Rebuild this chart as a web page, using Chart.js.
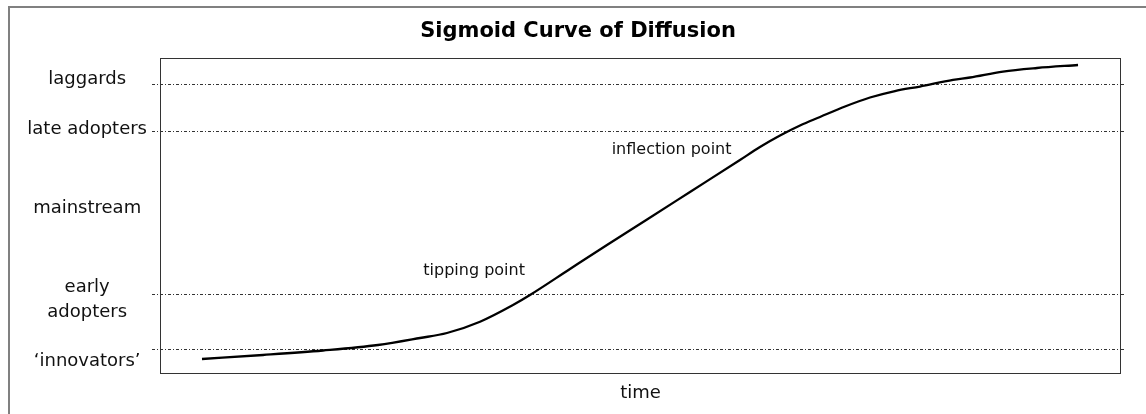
<!DOCTYPE html>
<html>
<head>
<meta charset="utf-8">
<title>Sigmoid Curve of Diffusion</title>
<script src="https://cdn.jsdelivr.net/npm/chart.js@4"></script>
<style>
  html, body { margin: 0; padding: 0; background: #fff; }
  #wrap { position: relative; width: 1146px; height: 414px; overflow: hidden; }
  #chart { display: block; }
  #frame { position: absolute; left: 8px; top: 6px; width: 1200px; height: 500px;
           border-left: 2px solid #808080; border-top: 2px solid #808080; pointer-events: none; }
</style>
</head>
<body>
<div id="wrap">
  <canvas id="chart" width="1146" height="414"></canvas>
  <div id="frame"></div>
</div>
<script>
// curve (time 0-100, adoption 0-100)
const timeValues     = [4.37, 10.72, 16.96, 22.68, 27.06, 29.86, 33.30, 36.73, 38.50, 42.66, 46.51, 50.68, 55.15,
                        60.35, 62.43, 64.52, 66.60, 68.68, 71.28, 73.88, 76.48, 79.08, 82.52, 84.29, 87.72, 91.26, 95.53];
const adoptionValues = [4.44, 5.71, 7.14, 8.89, 11.11, 12.70, 16.29, 21.59, 24.76, 33.02, 40.63, 48.73, 57.46,
                        67.62, 71.75, 75.40, 78.57, 81.27, 84.60, 87.46, 89.52, 90.95, 93.02, 93.81, 95.71, 96.83, 97.78];

// stage names on the left and where they sit
const stageLabels = ['laggards', 'late adopters', 'mainstream', ['early', 'adopters'], '\u2018innovators\u2019'];
const stageLevels = [93.1, 77.5, 52.4, 23.1, 3.6];

// dotted boundaries between stages
const boundaryLevels = [91.7, 76.8, 24.8, 7.6];

// notes written next to the curve
const noteText = ['inflection point', 'tipping point'];
const noteTime = [47.0, 27.4];
const noteLevel = [70.8, 32.5];

const FONT = "'DejaVu Sans', Verdana, sans-serif";
const DASH = [3, 2, 1, 2];

const plotFrame = {
    id: 'plotFrame',
    beforeDatasetsDraw(chart) {
        const { ctx, chartArea: a } = chart;
        ctx.save();
        ctx.strokeStyle = '#333';
        ctx.lineWidth = 1;
        ctx.strokeRect(Math.round(a.left) + 0.5, Math.round(a.top) + 0.5,
                       Math.round(a.right - a.left) - 1, Math.round(a.bottom - a.top));
        ctx.restore();
    }
};

const curveNotes = {
    id: 'curveNotes',
    afterDatasetsDraw(chart) {
        const { ctx, scales } = chart;
        ctx.save();
        ctx.font = '16px ' + FONT;
        ctx.fillStyle = '#111';
        ctx.textAlign = 'left';
        ctx.textBaseline = 'middle';
        noteText.forEach((t, i) => {
            ctx.fillText(t, scales.x.getPixelForValue(noteTime[i]), scales.y.getPixelForValue(noteLevel[i]));
        });
        ctx.restore();
    }
};

new Chart(document.getElementById('chart'), {
    type: 'line',
    data: {
        datasets: [{
            data: timeValues.map((t, i) => ({ x: t, y: adoptionValues[i] })),
            borderColor: '#000',
            borderWidth: 2.3,
            pointRadius: 0,
            fill: false,
            cubicInterpolationMode: 'monotone'
        }]
    },
    options: {
        responsive: false,
        animation: false,
        layout: { padding: { left: 15, right: 5, top: 0, bottom: 0 } },
        plugins: {
            legend: { display: false },
            tooltip: { enabled: false },
            title: {
                display: true,
                text: 'Sigmoid Curve of Diffusion',
                color: '#000',
                font: { family: FONT, size: 21, weight: 'bold', lineHeight: 1.2 },
                padding: { top: 19.4, bottom: 13.4 }
            }
        },
        scales: {
            x: {
                type: 'linear', min: 0, max: 100,
                grid: { display: false },
                border: { display: false },
                ticks: { display: false },
                title: {
                    display: true, text: 'time', color: '#111',
                    font: { family: FONT, size: 18, lineHeight: 1.2 },
                    padding: { top: 0, bottom: 10 }
                },
                afterFit: s => { s.height = 41; }
            },
            y: {
                type: 'linear', position: 'left', min: 0, max: 100, weight: 0,
                afterBuildTicks: s => { s.ticks = boundaryLevels.map(v => ({ value: v })); },
                afterFit: s => { s.width = 8; },
                ticks: { display: false },
                grid: { color: '#333', lineWidth: 1, tickLength: 8, tickBorderDash: DASH },
                border: { display: false, dash: DASH }
            },
            yStages: {
                type: 'linear', position: 'left', min: 0, max: 100, weight: 1,
                afterBuildTicks: s => { s.ticks = stageLevels.map(v => ({ value: v })); },
                afterFit: s => { s.width = 137; },
                grid: { display: false, drawTicks: false },
                border: { display: false },
                ticks: {
                    autoSkip: false, crossAlign: 'center', padding: 5, color: '#111',
                    font: { family: FONT, size: 18, lineHeight: 1.39 },
                    callback: (v, i) => stageLabels[i]
                }
            },
            yRight: {
                type: 'linear', position: 'right', min: 0, max: 100,
                afterBuildTicks: s => { s.ticks = boundaryLevels.map(v => ({ value: v })); },
                afterFit: s => { s.width = 20; },
                ticks: { display: false },
                grid: { drawOnChartArea: false, color: '#333', tickLength: 5, tickBorderDash: DASH },
                border: { display: false }
            }
        }
    },
    plugins: [plotFrame, curveNotes]
});
</script>
</body>
</html>
